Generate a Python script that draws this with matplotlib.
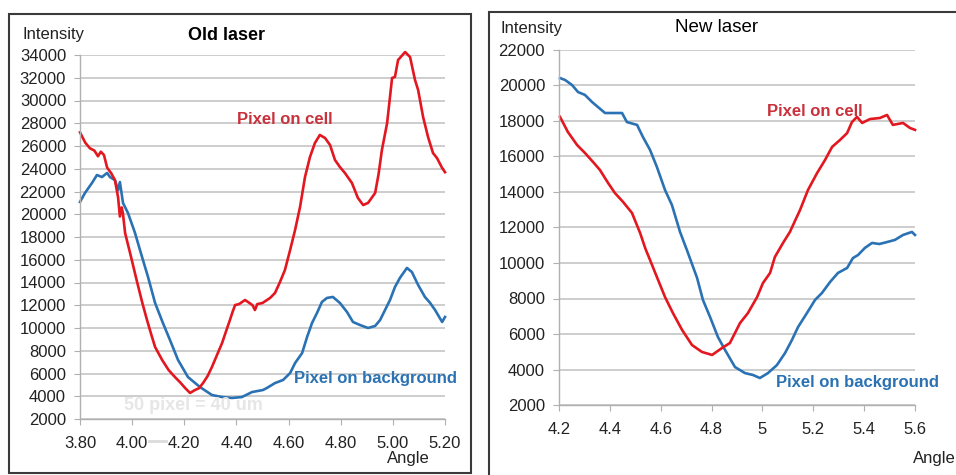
import matplotlib
matplotlib.use("Agg")
import matplotlib.pyplot as plt
from matplotlib.patches import Rectangle
from matplotlib.lines import Line2D
from matplotlib.ticker import FormatStrFormatter

plt.rcParams['font.family'] = ['Liberation Sans', 'DejaVu Sans']

# old laser, pixel on cell
old_cell_angle = [3.800, 3.820, 3.838, 3.855, 3.869, 3.880, 3.892, 3.904, 3.920, 3.934,
                  3.946, 3.953, 3.960, 3.965, 3.973, 3.992, 4.019, 4.038, 4.057, 4.075,
                  4.088, 4.115, 4.140, 4.164, 4.185, 4.203, 4.222, 4.241, 4.256, 4.272,
                  4.290, 4.306, 4.325, 4.345, 4.360, 4.375, 4.385, 4.395, 4.410, 4.433,
                  4.450, 4.462, 4.471, 4.480, 4.500, 4.529, 4.548, 4.567, 4.586, 4.606,
                  4.625, 4.644, 4.663, 4.682, 4.701, 4.720, 4.740, 4.759, 4.778, 4.797,
                  4.816, 4.843, 4.866, 4.886, 4.905, 4.932, 4.945, 4.958, 4.978, 4.997,
                  5.008, 5.020, 5.047, 5.066, 5.085, 5.097, 5.116, 5.135, 5.154, 5.169,
                  5.189, 5.200]
old_cell = [27200, 26300, 25800, 25600, 25100, 25500, 25200, 24100, 23600, 23000,
            21500, 19800, 20600, 20000, 18350, 16600, 14040, 12300, 10700, 9300,
            8330, 7190, 6300, 5690, 5200, 4730, 4290, 4550, 4700, 5160,
            5800, 6570, 7600, 8680, 9700, 10700, 11400, 12020, 12100, 12460,
            12200, 12000, 11580, 12100, 12200, 12640, 13080, 14040, 15100, 16860,
            18620, 20640, 23270, 25030, 26260, 26970, 26700, 26090, 24770, 24150,
            23630, 22750, 21430, 20810, 21000, 21870, 23500, 25650, 28020, 31980,
            32070, 33560, 34260, 33820, 31800, 30920, 28550, 26790, 25380, 24950,
            24070, 23700]

# old laser, pixel on background
old_bg_angle = [3.800, 3.819, 3.846, 3.865, 3.884, 3.904, 3.915, 3.934, 3.946, 3.953,
                3.965, 3.984, 4.003, 4.011, 4.038, 4.061, 4.088, 4.118, 4.145, 4.176,
                4.214, 4.260, 4.306, 4.345, 4.383, 4.421, 4.460, 4.502, 4.517, 4.548,
                4.579, 4.606, 4.625, 4.652, 4.671, 4.690, 4.709, 4.728, 4.747, 4.770,
                4.797, 4.824, 4.847, 4.874, 4.905, 4.932, 4.951, 4.970, 4.989, 5.008,
                5.027, 5.054, 5.073, 5.097, 5.123, 5.143, 5.162, 5.189, 5.200]
old_bg = [21080, 21870, 22750, 23450, 23270, 23630, 23270, 23000, 22130, 22830,
          20990, 20110, 18880, 18350, 16240, 14480, 12200, 10440, 8950, 7190,
          5690, 4810, 4110, 3930, 3850, 3930, 4370, 4550, 4730, 5160,
          5430, 6040, 6920, 7800, 9210, 10440, 11320, 12290, 12640, 12730,
          12200, 11410, 10530, 10260, 10000, 10180, 10700, 11580, 12460, 13600,
          14400, 15280, 14920, 13780, 12730, 12200, 11580, 10530, 10970]

# new laser, pixel on cell
new_cell_angle = [4.204, 4.235, 4.271, 4.302, 4.334, 4.361, 4.393, 4.420, 4.452, 4.487,
                  4.519, 4.540, 4.558, 4.585, 4.617, 4.648, 4.684, 4.723, 4.762, 4.802,
                  4.841, 4.872, 4.912, 4.943, 4.979, 5.002, 5.030, 5.049, 5.081, 5.108,
                  5.148, 5.179, 5.215, 5.246, 5.274, 5.305, 5.333, 5.352, 5.372, 5.392,
                  5.423, 5.462, 5.490, 5.513, 5.553, 5.580, 5.600]
new_cell = [18230, 17380, 16650, 16200, 15690, 15240, 14510, 13940, 13440, 12820,
            11690, 10800, 10170, 9210, 8080, 7180, 6230, 5380, 4990, 4820,
            5210, 5490, 6620, 7180, 8080, 8870, 9440, 10340, 11130, 11750,
            12990, 14110, 15070, 15800, 16540, 16930, 17320, 17940, 18230, 17890,
            18110, 18170, 18340, 17780, 17890, 17610, 17500]

# new laser, pixel on background
new_bg_angle = [4.204, 4.224, 4.251, 4.275, 4.302, 4.330, 4.353, 4.381, 4.412, 4.448,
                4.467, 4.507, 4.530, 4.558, 4.585, 4.617, 4.644, 4.676, 4.703, 4.743,
                4.766, 4.794, 4.825, 4.853, 4.892, 4.931, 4.963, 4.990, 5.022, 5.057,
                5.089, 5.116, 5.140, 5.175, 5.207, 5.234, 5.266, 5.297, 5.333, 5.356,
                5.376, 5.403, 5.431, 5.460, 5.490, 5.521, 5.553, 5.588, 5.600]
new_bg = [20420, 20310, 20030, 19630, 19470, 19070, 18790, 18450, 18450, 18450,
          17940, 17780, 17100, 16370, 15410, 14110, 13270, 11750, 10730, 9160,
          7920, 6960, 5830, 5100, 4140, 3800, 3690, 3520, 3800, 4250,
          4930, 5660, 6390, 7180, 7920, 8310, 8930, 9440, 9720, 10280,
          10450, 10850, 11130, 11070, 11180, 11300, 11580, 11750, 11580]

old_xticks = [3.8, 4.0, 4.2, 4.4, 4.6, 4.8, 5.0, 5.2]
old_yticks = list(range(2000, 34001, 2000))
new_xticks = [4.2, 4.4, 4.6, 4.8, 5.0, 5.2, 5.4, 5.6]
new_yticks = list(range(2000, 22001, 2000))

RED = '#e3171f'
BLUE = '#2a72b3'
W, H = 956, 475

fig = plt.figure(figsize=(9.56, 4.75), dpi=100)


def px_axes(x0, x1, y_top, y_bot):
    return fig.add_axes([x0 / W, 1 - y_bot / H, (x1 - x0) / W, (y_bot - y_top) / H])


def style(ax, xticks, yticks, fmt):
    ax.set_xticks(xticks)
    ax.set_yticks(yticks)
    ax.xaxis.set_major_formatter(FormatStrFormatter(fmt) if fmt else plt.FuncFormatter(lambda v, p: '%g' % v))
    ax.grid(axis='y', color='#c9c9c9', lw=1.3)
    ax.set_axisbelow(True)
    for s in ['top', 'right']:
        ax.spines[s].set_visible(False)
    for s in ['left', 'bottom']:
        ax.spines[s].set_color('#b0b0b0')
        ax.spines[s].set_linewidth(1.0)
    ax.tick_params(axis='both', colors='#b0b0b0', labelcolor='#222222', labelsize=12, length=4)
    ax.tick_params(axis='x', pad=8)
    ax.tick_params(axis='y', pad=6)


# panel borders
fig.patches.append(Rectangle((9 / W, 1 - 473 / H), 462 / W, 459 / H, transform=fig.transFigure,
                             fill=False, ec='#3a3a3a', lw=1.5))
fig.patches.append(Rectangle((489 / W, -0.1), 0.6, 1.1 - 12 / H, transform=fig.transFigure,
                             fill=False, ec='#3a3a3a', lw=1.5))

# left: old laser
ax1 = px_axes(80, 445, 55, 419)
ax1.plot(old_bg_angle, old_bg, color=BLUE, lw=1.9, clip_on=False)
ax1.plot(old_cell_angle, old_cell, color=RED, lw=1.9, clip_on=False)
ax1.set_xlim(3.8, 5.2)
ax1.set_ylim(2000, 34000)
style(ax1, old_xticks, old_yticks, '%.2f')

fig.text(23 / W, 1 - 35 / H, 'Intensity', fontsize=12, va='center', ha='left', color='#222222')
fig.text(226 / W, 1 - 36 / H, 'Old laser', fontsize=13, fontweight='bold', va='center', ha='center')
fig.text(408 / W, 1 - 459 / H, 'Angle', fontsize=12, va='center', ha='center', color='#222222')
fig.text(285 / W, 1 - 120 / H, 'Pixel on cell', fontsize=12, fontweight='bold', color='#c8323c',
         va='center', ha='center')
fig.text(375 / W, 1 - 379 / H, 'Pixel on background', fontsize=12, fontweight='bold', color=BLUE,
         va='center', ha='center')
# faint scale-bar note left over from the original slide
fig.text(193 / W, 1 - 405 / H, '50 pixel = 40 um', fontsize=13, fontweight='bold', color='#e6e6e6',
         va='center', ha='center')
fig.lines.append(Line2D([149 / W, 166 / W], [1 - 441 / H, 1 - 441 / H], transform=fig.transFigure,
                        color='#dcdcdc', lw=2))

# right: new laser
ax2 = px_axes(559, 915, 50, 405)
ax2.plot(new_bg_angle, new_bg, color=BLUE, lw=1.9, clip_on=False)
ax2.plot(new_cell_angle, new_cell, color=RED, lw=1.9, clip_on=False)
ax2.set_xlim(4.2, 5.6)
ax2.set_ylim(2000, 22000)
style(ax2, new_xticks, new_yticks, None)

fig.text(500 / W, 1 - 28 / H, 'Intensity', fontsize=12, va='center', ha='left', color='#222222')
fig.text(717 / W, 1 - 27 / H, 'New laser', fontsize=13.5, va='center', ha='center')
fig.text(913 / W, 1 - 458 / H, 'Angle', fontsize=12, va='center', ha='left', color='#222222')
fig.text(815 / W, 1 - 112 / H, 'Pixel on cell', fontsize=12, fontweight='bold', color='#c8323c',
         va='center', ha='center')
fig.text(858 / W, 1 - 383 / H, 'Pixel on background', fontsize=12, fontweight='bold', color=BLUE,
         va='center', ha='center')

fig.savefig('out.png', dpi=100)
